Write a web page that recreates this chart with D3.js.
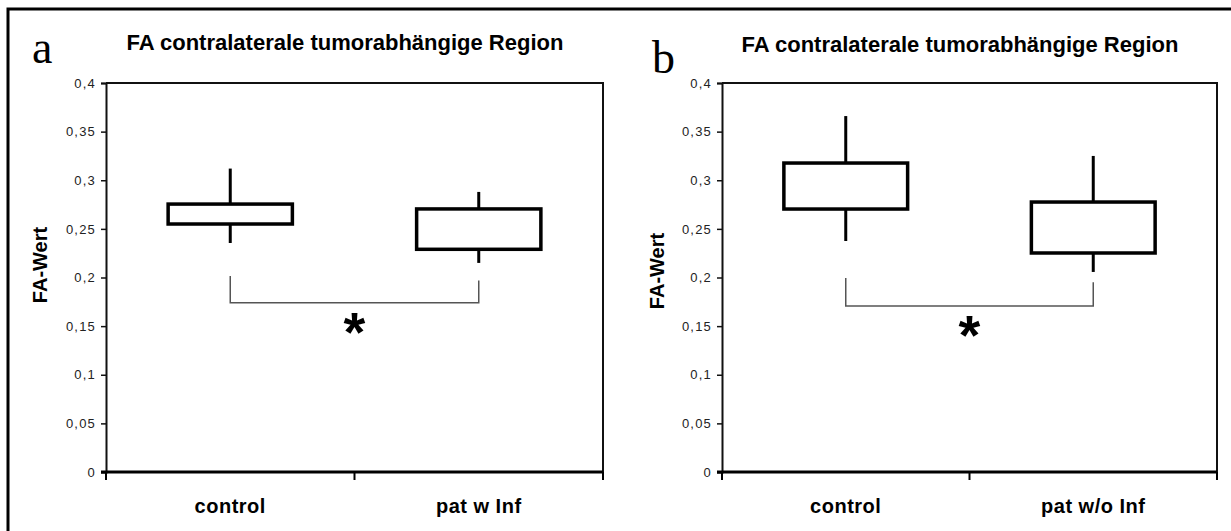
<!DOCTYPE html>
<html>
<head>
<meta charset="utf-8">
<script src="https://cdn.jsdelivr.net/npm/d3@7/dist/d3.min.js"></script>
<style>
  html, body { margin: 0; padding: 0; background: #fff; }
  svg { display: block; }
</style>
</head>
<body>
<svg id="chart" width="1231" height="531"></svg>
<script>
// ---------- data ----------
const titleText = "FA contralaterale tumorabhängige Region";
const yLabel = "FA-Wert";
const panelLetters = ["a", "b"];

const categoriesA = ["control", "pat w Inf"];
const whiskerHighA = [0.312, 0.288];
const boxHighA     = [0.2755, 0.2705];
const boxLowA      = [0.255, 0.229];
const whiskerLowA  = [0.2355, 0.215];
const bracketA     = [0.2015, 0.197, 0.174]; // left end, right end, bar

const categoriesB = ["control", "pat w/o Inf"];
const whiskerHighB = [0.366, 0.325];
const boxHighB     = [0.3177, 0.2776];
const boxLowB      = [0.2704, 0.2252];
const whiskerLowB  = [0.2375, 0.2057];
const bracketB     = [0.1995, 0.195, 0.1707];

const yTickValues = [0, 0.05, 0.1, 0.15, 0.2, 0.25, 0.3, 0.35, 0.4];
const yTickLabels = ["0", "0,05", "0,1", "0,15", "0,2", "0,25", "0,3", "0,35", "0,4"];
const significance = "*";

// ---------- drawing ----------
const svg = d3.select("#chart");
const sans = "'Liberation Sans', Arial, sans-serif";
const serif = "'Liberation Serif', 'Times New Roman', serif";

// outer frame
svg.append("rect")
  .attr("x", 8).attr("y", 9)
  .attr("width", 1240).attr("height", 540)
  .attr("fill", "none").attr("stroke", "#000").attr("stroke-width", 3);

const panels = [
  { letter: panelLetters[0], cats: categoriesA, wh: whiskerHighA, bh: boxHighA, bl: boxLowA, wl: whiskerLowA,
    br: bracketA, left: 106, right: 603, letterX: 32, letterY: 63, labelX: 47, labelY: 265,
    titleX: 345, titleY: 50 },
  { letter: panelLetters[1], cats: categoriesB, wh: whiskerHighB, bh: boxHighB, bl: boxLowB, wl: whiskerLowB,
    br: bracketB, left: 722, right: 1217, letterX: 652, letterY: 73, labelX: 664, labelY: 271,
    titleX: 960, titleY: 52 }
];
const plotTop = 83, plotBottom = 472;

panels.forEach(p => {
  const g = svg.append("g");
  const y = d3.scaleLinear().domain([0, 0.4]).range([plotBottom, plotTop]);
  const x = d3.scaleBand().domain(p.cats).range([p.left, p.right])
    .paddingInner(0.5).paddingOuter(0.25);
  const cx = c => x(c) + x.bandwidth() / 2;
  const step = x.step();

  // panel letter
  g.append("text").attr("x", p.letterX).attr("y", p.letterY)
    .attr("font-family", serif).attr("font-size", 46).attr("fill", "#000")
    .text(p.letter);

  // title
  g.append("text").attr("x", p.titleX).attr("y", p.titleY)
    .attr("text-anchor", "middle")
    .attr("font-family", sans).attr("font-weight", "bold").attr("font-size", 22)
    .attr("fill", "#000").text(titleText);

  // plot frame (top & right)
  g.append("path")
    .attr("d", `M${p.left},${plotTop}H${p.right}V${plotBottom}`)
    .attr("fill", "none").attr("stroke", "#111").attr("stroke-width", 2);

  // y axis
  const yAxis = d3.axisLeft(y).tickValues(yTickValues)
    .tickFormat((d, i) => yTickLabels[i]).tickSize(5).tickPadding(5);
  const ya = g.append("g").attr("transform", `translate(${p.left},0)`).call(yAxis);
  ya.select(".domain").attr("stroke", "#111").attr("stroke-width", 2);
  ya.selectAll(".tick line").attr("stroke", "#111").attr("stroke-width", 1.5);
  ya.selectAll(".tick text")
    .attr("font-family", sans).attr("font-size", 13).attr("fill", "#222")
    .attr("letter-spacing", 1.2);

  // x axis
  const boundaries = [cx(p.cats[0]) - step / 2]
    .concat(p.cats.map(c => cx(c) + step / 2));
  g.append("line").attr("x1", p.left - 5).attr("x2", p.right)
    .attr("y1", y(0)).attr("y2", y(0))
    .attr("stroke", "#000").attr("stroke-width", 3);
  g.selectAll(".xtick").data(boundaries).join("line")
    .attr("x1", d => d).attr("x2", d => d)
    .attr("y1", y(0)).attr("y2", y(0) + 8)
    .attr("stroke", "#000").attr("stroke-width", 2);
  g.selectAll(".xlab").data(p.cats).join("text")
    .attr("x", d => cx(d)).attr("y", 513)
    .attr("text-anchor", "middle")
    .attr("font-family", sans).attr("font-weight", "bold").attr("font-size", 20)
    .attr("letter-spacing", 0.5)
    .attr("fill", "#000").text(d => d);

  // y label
  g.append("text")
    .attr("transform", `translate(${p.labelX},${p.labelY}) rotate(-90)`)
    .attr("text-anchor", "middle")
    .attr("font-family", sans).attr("font-weight", "bold").attr("font-size", 20)
    .attr("fill", "#000").text(yLabel);

  // whiskers
  p.cats.forEach((c, i) => {
    g.append("line").attr("x1", cx(c)).attr("x2", cx(c))
      .attr("y1", y(p.wh[i])).attr("y2", y(p.wl[i]))
      .attr("stroke", "#000").attr("stroke-width", 3);
  });
  // boxes
  p.cats.forEach((c, i) => {
    g.append("rect").attr("x", x(c)).attr("y", y(p.bh[i]))
      .attr("width", x.bandwidth()).attr("height", y(p.bl[i]) - y(p.bh[i]))
      .attr("fill", "#fff").attr("stroke", "#000").attr("stroke-width", 3.5);
  });

  // significance bracket
  const x0 = cx(p.cats[0]), x1 = cx(p.cats[1]);
  g.append("path")
    .attr("d", `M${x0},${y(p.br[0])}V${y(p.br[2])}H${x1}V${y(p.br[1])}`)
    .attr("fill", "none").attr("stroke", "#555").attr("stroke-width", 1.5);
  g.append("text").attr("x", (x0 + x1) / 2).attr("y", y(p.br[2]) + 48)
    .attr("text-anchor", "middle")
    .attr("font-family", sans).attr("font-weight", "bold").attr("font-size", 56)
    .attr("fill", "#000").text(significance);
});
</script>
</body>
</html>
